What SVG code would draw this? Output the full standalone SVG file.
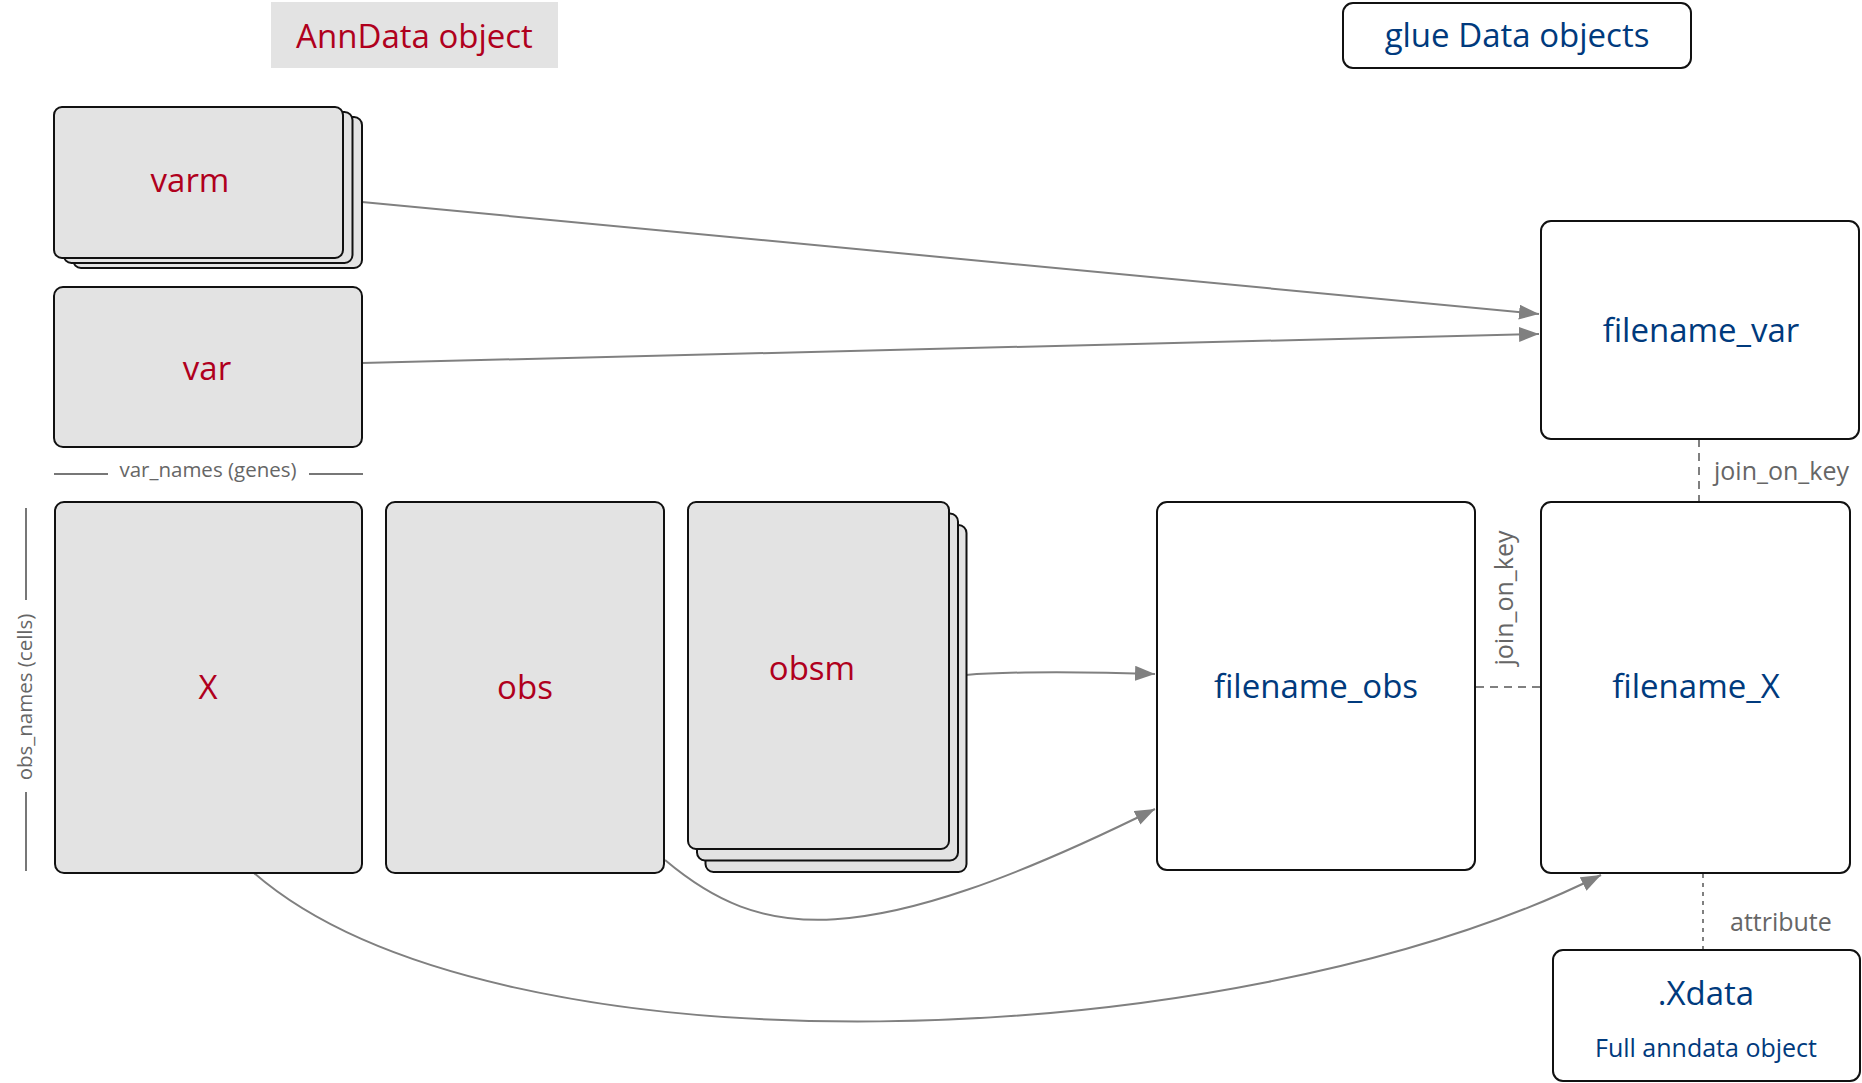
<svg xmlns="http://www.w3.org/2000/svg" width="1862" height="1083" viewBox="0 0 1862 1083">
  <defs>
    <style>
      text { font-family: "Open Sans", "Noto Sans", "DejaVu Sans", sans-serif; }
      .gray { fill: #e3e3e3; stroke: #111; stroke-width: 2; }
      .white { fill: #ffffff; stroke: #111; stroke-width: 2; }
      .red { font-size: 33px; fill: #b0001d; text-anchor: middle; }
      .blue { font-size: 33px; fill: #003a7d; text-anchor: middle; }
      .edge { fill: none; stroke: #808080; stroke-width: 2; }
      .dash { fill: none; stroke: #808080; stroke-width: 2; stroke-dasharray: 8 6; }
      .dot { fill: none; stroke: #808080; stroke-width: 2; stroke-dasharray: 4 5; }
      .elabel { font-size: 25px; fill: #666666; }
      .axis { font-size: 20.5px; fill: #666666; text-anchor: middle; }
      .axisline { stroke: #777777; stroke-width: 2; fill: none; }
    </style>
    <marker id="arrow" markerUnits="userSpaceOnUse" markerWidth="21" markerHeight="16" refX="20" refY="7.5" orient="auto">
      <path d="M0,0 L20,7.5 L0,15 Z" fill="#808080"/>
    </marker>
  </defs>

  <rect width="1862" height="1083" fill="#ffffff"/>

  <!-- Titles -->
  <g id="title-anndata">
    <rect x="271" y="2" width="287" height="66" fill="#e3e3e3"/>
    <text class="red" x="414.5" y="48">AnnData object</text>
  </g>
  <g id="title-glue">
    <rect class="white" x="1343" y="3" width="348" height="65" rx="10"/>
    <text class="blue" x="1517" y="47">glue Data objects</text>
  </g>

  <!-- Axis labels -->
  <g id="axis-var-names">
    <line class="axisline" x1="54" y1="474" x2="108" y2="474"/>
    <line class="axisline" x1="309" y1="474" x2="363" y2="474"/>
    <text class="axis" x="208" y="477">var_names (genes)</text>
  </g>
  <g id="axis-obs-names">
    <line class="axisline" x1="26" y1="508" x2="26" y2="600"/>
    <line class="axisline" x1="26" y1="792" x2="26" y2="871"/>
    <text class="axis" transform="translate(32,697) rotate(-90)" x="0" y="0">obs_names (cells)</text>
  </g>

  <!-- Connectors -->
  <g id="connectors">
    <path class="edge" d="M362,202 L1539,314" marker-end="url(#arrow)"/>
    <path class="edge" d="M362,363 L1539,334" marker-end="url(#arrow)"/>
    <path class="edge" d="M966,675 C1010,671 1100,672 1155,674" marker-end="url(#arrow)"/>
    <path class="edge" d="M665,860 C760,940 860,955 1155,809" marker-end="url(#arrow)"/>
    <path class="edge" d="M254,873 C494,1082 1233,1059 1601,875" marker-end="url(#arrow)"/>
    <path class="dash" d="M1699,439 L1699,502"/>
    <path class="dash" d="M1476,687 L1541,687"/>
    <path class="dot" d="M1703,874 L1703,950"/>
    <text class="elabel" x="1714" y="480">join_on_key</text>
    <text class="elabel" text-anchor="middle" transform="translate(1513,598) rotate(-90)">join_on_key</text>
    <text class="elabel" x="1730" y="931">attribute</text>
  </g>

  <!-- AnnData nodes -->
  <g id="node-varm">
    <rect class="gray" x="73" y="117" width="289" height="151" rx="8"/>
    <rect class="gray" x="63.5" y="112" width="289" height="151" rx="8"/>
    <rect class="gray" x="54" y="107" width="289" height="151" rx="8"/>
    <text class="red" x="190" y="192">varm</text>
  </g>
  <g id="node-var">
    <rect class="gray" x="54" y="287" width="308" height="160" rx="9"/>
    <text class="red" x="207" y="380">var</text>
  </g>
  <g id="node-X">
    <rect class="gray" x="55" y="502" width="307" height="371" rx="9"/>
    <text class="red" x="208" y="699">X</text>
  </g>
  <g id="node-obs">
    <rect class="gray" x="386" y="502" width="278" height="371" rx="9"/>
    <text class="red" x="525" y="699">obs</text>
  </g>
  <g id="node-obsm">
    <rect class="gray" x="705.5" y="525" width="261" height="347" rx="8"/>
    <rect class="gray" x="697" y="513.5" width="261" height="347" rx="8"/>
    <rect class="gray" x="688" y="502" width="261" height="347" rx="8"/>
    <text class="red" x="812" y="680">obsm</text>
  </g>

  <!-- glue nodes -->
  <g id="node-filename-var">
    <rect class="white" x="1541" y="221" width="318" height="218" rx="10"/>
    <text class="blue" x="1701" y="342">filename_var</text>
  </g>
  <g id="node-filename-obs">
    <rect class="white" x="1157" y="502" width="318" height="368" rx="10"/>
    <text class="blue" x="1316" y="698">filename_obs</text>
  </g>
  <g id="node-filename-X">
    <rect class="white" x="1541" y="502" width="309" height="371" rx="10"/>
    <text class="blue" x="1696" y="698">filename_X</text>
  </g>
  <g id="node-xdata">
    <rect class="white" x="1553" y="950" width="307" height="131" rx="10"/>
    <text class="blue" x="1706" y="1005">.Xdata</text>
    <text class="blue" x="1706" y="1057" style="font-size:25px">Full anndata object</text>
  </g>
</svg>
